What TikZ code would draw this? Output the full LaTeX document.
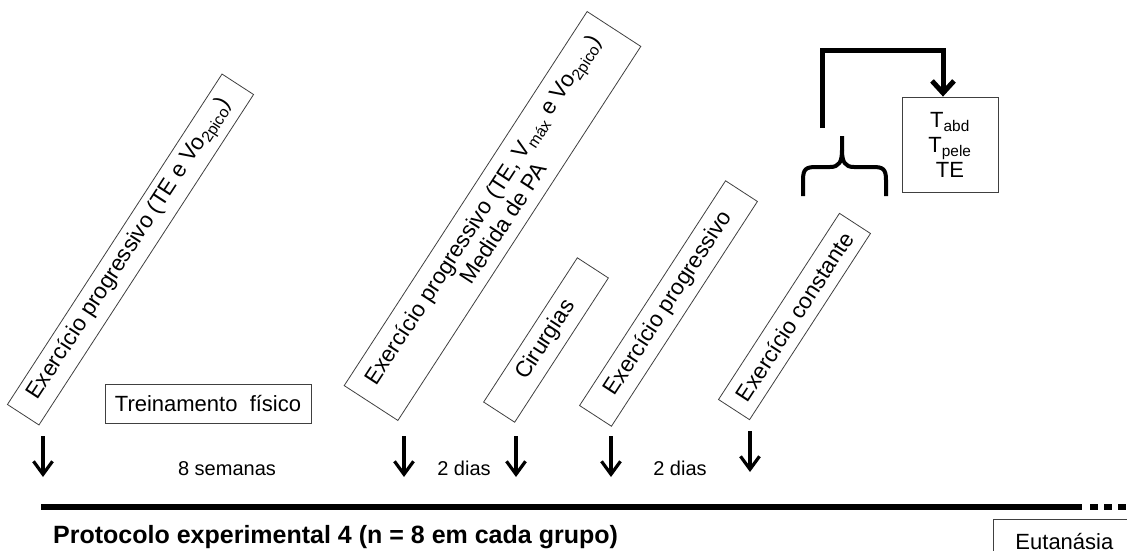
\documentclass[tikz,border=0pt]{standalone}
\usepackage{fontspec}
\setmainfont{Liberation Sans}
\usetikzlibrary{arrows.meta}
\begin{document}
\begin{tikzpicture}[x=1pt,y=-1pt,
  every node/.style={font=\fontsize{22.5}{25}\selectfont, inner sep=0pt},
  rbox/.style={draw=black!75, line width=0.8pt, rotate=57, align=center},
  hbox/.style={draw=black!75, line width=0.8pt, align=center},
  interval/.style={font=\fontsize{20}{24}\selectfont},
  downarrow/.style={line width=3.2pt, -{Straight Barb[length=13pt,width=19pt,line width=3.2pt]}},
  elbowarrow/.style={line width=5pt, -{Straight Barb[length=12pt,width=22pt,line width=5pt]}},
  bracestyle/.style={line width=4pt, line cap=butt},
  timeline/.style={line width=5.5pt}
]
\useasboundingbox (0,0) rectangle (1127,551);
\fill[white] (0,0) rectangle (1127,551);

% rotated boxes
\node[rbox, minimum width=394pt, minimum height=37.6pt] (e1) at (130.5,249.5)
  {Exercício progressivo (TE e Vo\textsubscript{2pico})};
\node[rbox, minimum width=446pt, minimum height=64pt] (e2) at (492.5,216)
  {Exercício progressivo (TE, V\textsubscript{máx} e Vo\textsubscript{2pico})\\Medida de PA};
\node[rbox, minimum width=172pt, minimum height=37pt] (cir) at (546,340) {Cirurgias};
\node[rbox, minimum width=268pt, minimum height=38pt] (e3) at (668.5,303.5) {Exercício progressivo};
\node[rbox, minimum width=222pt, minimum height=37pt] (e4) at (794.5,316.5) {Exercício constante};

% horizontal boxes
\node[hbox, minimum width=206pt, minimum height=39pt, font=\fontsize{22}{25}\selectfont] (trein) at (208,403.5) {Treinamento~ físico};
\node[hbox, minimum width=96pt, minimum height=95pt, font=\fontsize{22}{25}\selectfont] (tbox) at (950,144.5)
  {T\textsubscript{abd}\\T\textsubscript{pele}\\TE};
\node[hbox, anchor=north west, minimum width=142pt, minimum height=44pt, font=\fontsize{22}{25}\selectfont] (eut) at (993,519) {Eutanásia};

% down arrows
\draw[downarrow] (43,436) -- (43,477);
\draw[downarrow] (404,436) -- (404,477);
\draw[downarrow] (516,436) -- (516,477);
\draw[downarrow] (611,436) -- (611,477);
\draw[downarrow] (750,431) -- (750,472);

% interval labels
\node[interval] (l1) at (227,469) {8 semanas};
\node[interval] (l2) at (464,468) {2 dias};
\node[interval] (l3) at (680,468) {2 dias};

% timeline
\draw[timeline] (41,507) -- (1082,507);
\draw[timeline, dash pattern=on 8pt off 6pt] (1090,507) -- (1135,507);
\node[anchor=west, font=\fontsize{25}{28}\selectfont\bfseries] (prot) at (53,537)
  {Protocolo experimental 4 (n = 8 em cada grupo)};

% brace
\draw[bracestyle] (803,196) -- (803,180) .. controls (803,169) and (806,167) .. (816,167)
  -- (830,167) .. controls (839,167) and (842,162) .. (842,150) -- (842,136);
\draw[bracestyle] (886,196) -- (886,180) .. controls (886,169) and (883,167) .. (873,167)
  -- (854,167) .. controls (845,167) and (842,162) .. (842,150);

% elbow arrow
\coordinate (bs) at (822,128);
\draw[elbowarrow] (bs) -- (822,51) -| ([xshift=-7pt]tbox.north);
\end{tikzpicture}
\end{document}
